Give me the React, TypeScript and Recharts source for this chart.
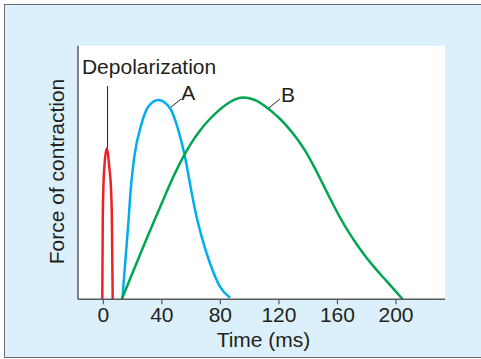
import React from 'react'
import {
  LineChart,
  Line,
  XAxis,
  YAxis,
  CartesianGrid,
  ReferenceLine,
  ReferenceDot,
  Label,
} from 'recharts'

// time (ms) vs force of contraction (arbitrary units, 0-100)
const depolarization = [
  { t: -0.7, f: 0 },
  { t: -0.4, f: 30 },
  { t: 0, f: 43 },
  { t: 0.7, f: 52 },
  { t: 2.3, f: 59.5 },
  { t: 4.1, f: 52 },
  { t: 5.3, f: 43 },
  { t: 5.9, f: 30 },
  { t: 6.4, f: 0 },
]

const curveA = [
  { t: 13.0, f: 0 },
  { t: 17.1, f: 30 },
  { t: 18.7, f: 43.1 },
  { t: 21.2, f: 56.2 },
  { t: 26.2, f: 69.4 },
  { t: 30.7, f: 75.9 },
  { t: 37.6, f: 78.6 },
  { t: 45.6, f: 75.3 },
  { t: 51.2, f: 66.8 },
  { t: 55.8, f: 56.2 },
  { t: 59.2, f: 45.7 },
  { t: 62.7, f: 35.2 },
  { t: 67.2, f: 24.7 },
  { t: 72.9, f: 14.2 },
  { t: 79.7, f: 5.0 },
  { t: 86.6, f: 0.6 },
]

const curveB = [
  { t: 12.6, f: 0 },
  { t: 20, f: 10.5 },
  { t: 30, f: 24.5 },
  { t: 40, f: 38 },
  { t: 48, f: 48.5 },
  { t: 54, f: 55.5 },
  { t: 60, f: 61.5 },
  { t: 66, f: 66.5 },
  { t: 72, f: 70.6 },
  { t: 78, f: 74 },
  { t: 84, f: 76.8 },
  { t: 90, f: 78.8 },
  { t: 95, f: 79.6 },
  { t: 101, f: 79.1 },
  { t: 106, f: 77.9 },
  { t: 111, f: 75.9 },
  { t: 116, f: 73.6 },
  { t: 121, f: 71.0 },
  { t: 126, f: 67.9 },
  { t: 132, f: 63.6 },
  { t: 138, f: 58.5 },
  { t: 144, f: 52.3 },
  { t: 150, f: 45.5 },
  { t: 156, f: 38.6 },
  { t: 162, f: 32.0 },
  { t: 168, f: 26.2 },
  { t: 174, f: 21.0 },
  { t: 180, f: 16.3 },
  { t: 186, f: 12.1 },
  { t: 192, f: 8.2 },
  { t: 198, f: 4.3 },
  { t: 204.6, f: 0 },
]

const timeTicks = [0, 40, 80, 120, 160, 200]

// callout text anchors and leader lines, in data units
const callouts = [
  { text: 'Depolarization', t: -14.6, f: 89.0 },
  { text: 'A', t: 53.3, f: 78.6 },
  { text: 'B', t: 121.4, f: 77.8 },
]
const leaders = [
  [{ x: 2.9, y: 59.5 }, { x: 2.9, y: 84.1 }],
  [{ x: 45.6, y: 75.4 }, { x: 53.1, y: 79.0 }],
  [{ x: 112.7, y: 75.2 }, { x: 120.7, y: 79.0 }],
]

const FONT = '"Liberation Sans", Arial, Helvetica, sans-serif'
const INK = '#231f20'
const AXIS = '#58595b'

function CalloutText(text: string) {
  return (props: any) => {
    const { x, y } = props.viewBox || {}
    return (
      <text x={x} y={y} fill={INK} fontSize={21} fontFamily={FONT}>
        {text}
      </text>
    )
  }
}

export default function App() {
  return (
    <div style={{ position: 'fixed', left: 0, top: 0, width: 481, height: 359, background: '#fff' }}>
      <div
        style={{
          position: 'absolute',
          left: 4,
          top: 4,
          width: 480,
          height: 352,
          background: '#dcf0fb',
          borderLeft: '1.5px solid #6d6e71',
          borderTop: '1.5px solid #6d6e71',
          borderBottom: '1.5px solid #6d6e71',
        }}
      />
      <div style={{ position: 'absolute', left: 0, top: 0 }}>
        <LineChart
          width={481}
          height={359}
          margin={{ top: 45.7, right: 36, bottom: 9.7, left: 38 }}
          style={{ fontFamily: FONT }}
        >
          <CartesianGrid fill="#ffffff" horizontal={false} vertical={false} />
          <XAxis
            type="number"
            dataKey="t"
            domain={[-17.3, 233.5]}
            ticks={timeTicks}
            allowDataOverflow
            height={50}
            tickSize={5}
            tickMargin={3}
            axisLine={{ stroke: AXIS, strokeWidth: 1.5 }}
            tickLine={{ stroke: AXIS, strokeWidth: 1.2 }}
            tick={{ fill: INK, fontSize: 21, fontFamily: FONT }}
          >
            <Label
              value="Time (ms)"
              position="insideBottom"
              offset={2}
              dx={2}
              style={{ fill: INK, fontSize: 21, fontFamily: FONT }}
            />
          </XAxis>
          <YAxis
            type="number"
            domain={[0, 100]}
            allowDataOverflow
            width={40}
            tick={false}
            tickLine={false}
            axisLine={{ stroke: AXIS, strokeWidth: 1.5 }}
          >
            <Label
              value="Force of contraction"
              angle={-90}
              position="center"
              dx={-1}
              dy={-1}
              style={{ fill: INK, fontSize: 21, fontFamily: FONT, textAnchor: 'middle' }}
            />
          </YAxis>
          {leaders.map((seg, i) => (
            <ReferenceLine key={i} segment={seg} stroke={INK} strokeWidth={1} />
          ))}
          {callouts.map((c) => (
            <ReferenceDot
              key={c.text}
              x={c.t}
              y={c.f}
              r={0}
              fill="none"
              stroke="none"
              label={CalloutText(c.text)}
            />
          ))}
          <Line
            data={depolarization}
            dataKey="f"
            type="monotone"
            stroke="#ee2024"
            strokeWidth={2.5}
            dot={false}
            isAnimationActive={false}
          />
          <Line
            data={curveA}
            dataKey="f"
            type="monotone"
            stroke="#00aeef"
            strokeWidth={2.5}
            dot={false}
            isAnimationActive={false}
          />
          <Line
            data={curveB}
            dataKey="f"
            type="monotone"
            stroke="#00a651"
            strokeWidth={2.5}
            dot={false}
            isAnimationActive={false}
          />
        </LineChart>
      </div>
    </div>
  )
}
